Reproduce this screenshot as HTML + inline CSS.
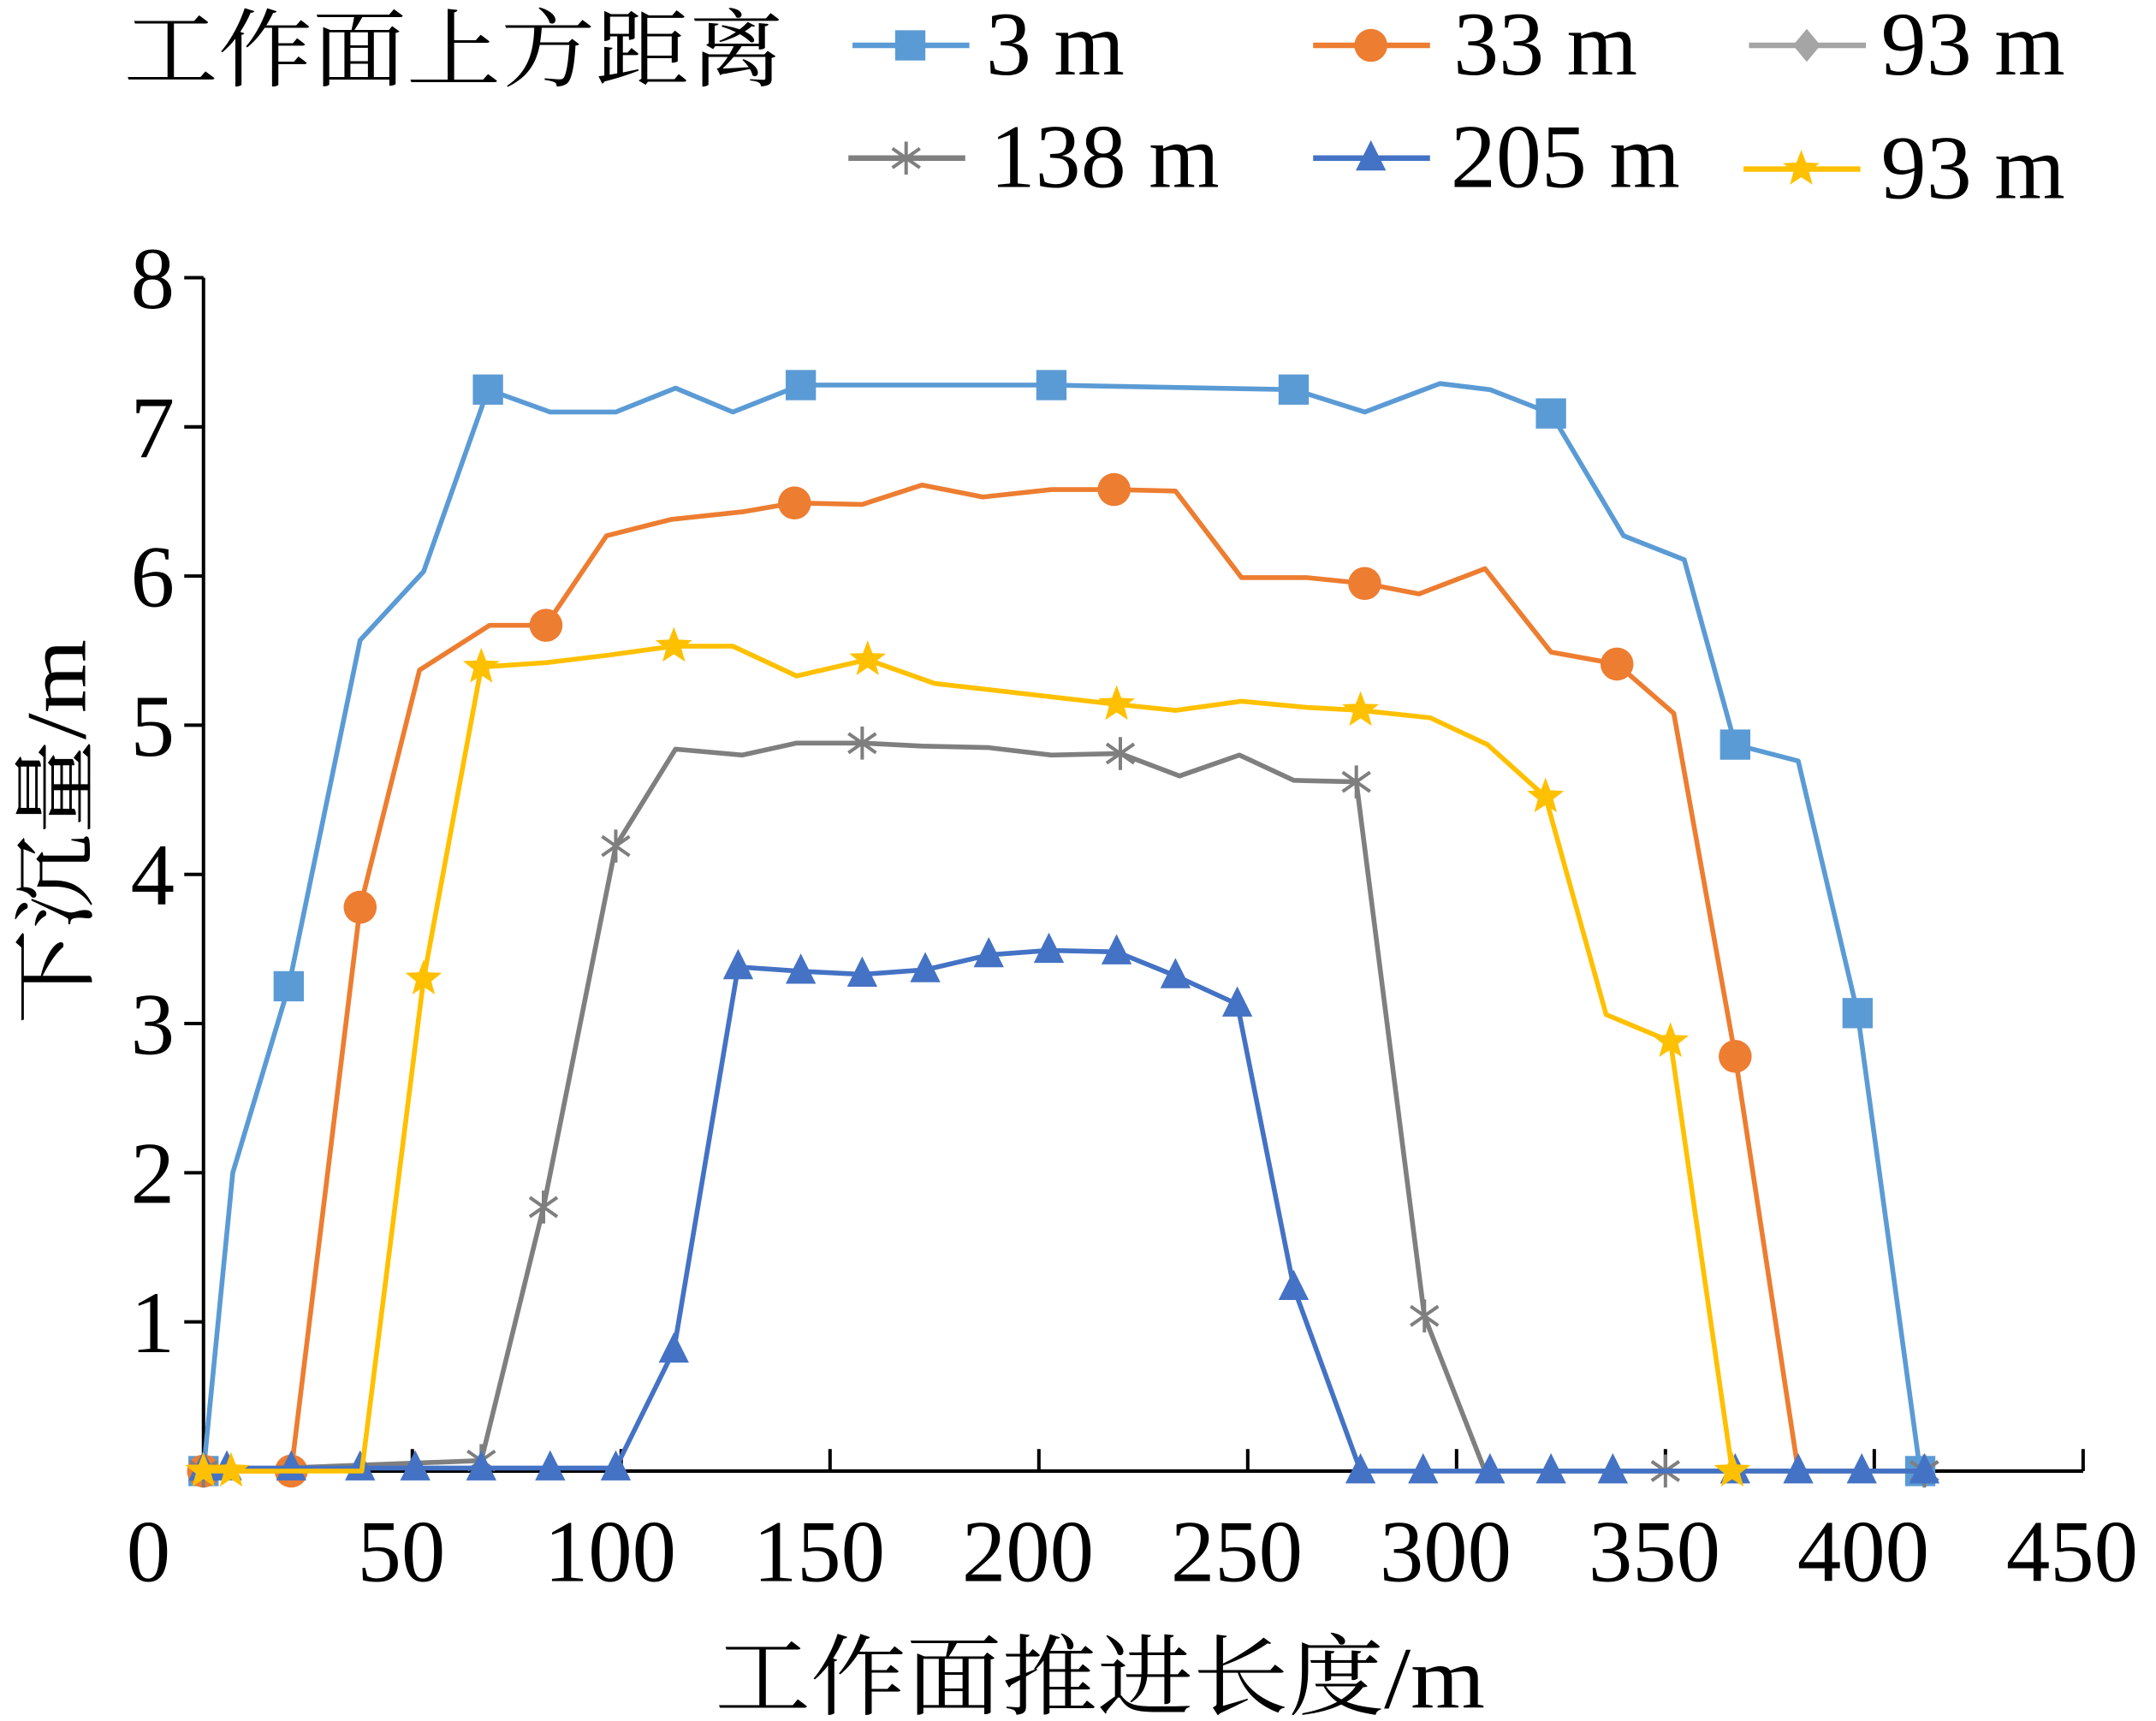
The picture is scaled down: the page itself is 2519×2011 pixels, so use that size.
<!DOCTYPE html>
<html><head><meta charset="utf-8"><style>
html,body{margin:0;padding:0;background:#fff;}
svg{display:block;}
text{font-family:"Liberation Serif","Noto Serif CJK SC",serif;fill:#000;}
</style></head><body>
<svg id="chart" width="2519" height="2011" viewBox="0 0 1568 1251.8" preserveAspectRatio="none" xmlns="http://www.w3.org/2000/svg">
<g id="legend"></g>
<g id="axes"></g>
<g id="series"></g>
</svg>
<script>
const xTicks=[0,50,100,150,200,250,300,350,400,450];
const yTicks=[1,2,3,4,5,6,7,8];
const s3x=[0,7,20.4,37.5,52.7,68.1,83,98.7,113,126.7,143,203,261,278,296,308,322.6,340,354.5,366.7,381.8,396,411];
const s3y=[0,2.0,3.25,5.57,6.03,7.25,7.1,7.1,7.26,7.1,7.28,7.28,7.25,7.1,7.29,7.25,7.09,6.27,6.11,4.87,4.76,3.07,0];
const s3m=[1,0,1,0,0,1,0,0,0,0,1,1,1,0,0,0,1,0,0,1,0,1,1];
const s33x=[0,21,37.5,51.7,68.5,82,96.5,112,129,141.5,157.7,172,186.6,203,218,232.7,248.5,264,278,291,306.8,322.6,338.4,352,366.7,381.8];
const s33y=[0,0,3.78,5.37,5.67,5.67,6.27,6.38,6.43,6.49,6.48,6.61,6.53,6.58,6.58,6.57,5.99,5.99,5.95,5.88,6.05,5.49,5.41,5.08,2.78,0];
const s33m=[1,1,1,0,0,1,0,0,0,1,0,0,0,0,1,0,0,0,1,0,0,0,1,0,1,0];
const s93x=[0,6.6,37.9,52.7,66.5,82.3,97,112.6,126.7,142,159,175,218.6,232.7,248.5,264,277,293.7,307.4,321.3,335.8,351.2,366];
const s93y=[0,0,0,3.3,5.39,5.42,5.47,5.53,5.53,5.33,5.44,5.28,5.14,5.1,5.16,5.12,5.1,5.05,4.87,4.52,3.06,2.88,0];
const s93m=[1,1,0,1,1,0,0,1,0,0,1,0,1,0,0,0,1,0,0,1,0,1,1];
const s138x=[0,66.5,81.4,98.7,113,129,142,157.7,172,188,203,219.5,233.7,248,261,276,292.3,306.8,350,412];
const s138y=[0,0.07,1.77,4.19,4.84,4.8,4.88,4.88,4.86,4.85,4.8,4.81,4.66,4.8,4.63,4.62,1.04,0,0,0];
const s138m=[1,1,1,1,0,0,0,1,0,0,0,1,0,0,0,1,1,0,1,1];
const s205x=[0,5.6,21,37.5,50.7,66.5,83,98.7,112.6,128,143,157.7,172.8,188,202.4,218.6,232.7,247.5,261,277,292,308,322.6,337.4,366.7,381.8,397,412];
const s205y=[0.02,0.02,0.02,0.02,0.02,0.02,0.02,0.02,0.81,3.38,3.35,3.33,3.36,3.46,3.49,3.48,3.32,3.13,1.23,0,0,0,0,0,0,0,0,0];
const legendLabels=["3 m","33 m","93 m","138 m","205 m","93 m"];
const NS="http://www.w3.org/2000/svg";
const X0=148,XK=(1515-148)/450,Y0=1070,YK=108.5;
const sx=v=>X0+v*XK, sy=v=>Y0-v*YK;
function mk(tag,attrs,parent){const e=document.createElementNS(NS,tag);for(const k in attrs)e.setAttribute(k,attrs[k]);parent.appendChild(e);return e;}
const axes=document.getElementById('axes');
let e;
e=mk('line',{x1:X0,y1:sy(8),x2:X0,y2:Y0,stroke:'#000','stroke-width':2.5},axes);


e=mk('line',{x1:X0,y1:Y0,x2:sx(450),y2:Y0,stroke:'#000','stroke-width':2.5},axes);


yTicks.forEach(v=>{
 e=mk('line',{x1:X0-14,y1:sy(v),x2:X0,y2:sy(v),stroke:'#000','stroke-width':2.5},axes);
 
 
 e=mk('text',{x:127,y:sy(v)+22,'text-anchor':'end','font-size':64},axes);e.textContent=v;
 
 
});
xTicks.forEach(v=>{
 if(v>0){e=mk('line',{x1:sx(v),y1:Y0-16,x2:sx(v),y2:Y0,stroke:'#000','stroke-width':2.5},axes);
 
 }
 const lx=v===0?108:sx(v)-8;
 e=mk('text',{x:lx,y:1150,'text-anchor':'middle','font-size':64},axes);e.textContent=v;
 
 
});
e=mk('text',{x:520,y:1242,'font-size':64,textLength:560,lengthAdjust:'spacingAndGlyphs'},axes);e.textContent='工作面推进长度/m';


e=mk('text',{x:0,y:0,'font-size':62,textLength:280,lengthAdjust:'spacingAndGlyphs',transform:'translate(62,745) rotate(-90)'},axes);e.textContent='下沉量/m';



function star(cx,cy,r){let p=[];for(let i=0;i<10;i++){const a=-Math.PI/2+i*Math.PI/5,rr=i%2?r*0.42:r;p.push((cx+rr*Math.cos(a)).toFixed(1)+','+(cy+rr*Math.sin(a)).toFixed(1));}return p.join(' ');}
function marker(type,color,cx,cy,g){
 if(type==='square')return mk('rect',{x:cx-11,y:cy-11,width:22,height:22,fill:color},g);
 if(type==='circle')return mk('circle',{cx:cx,cy:cy,r:12,fill:color},g);
 if(type==='diamond')return mk('polygon',{points:`${cx},${cy-12} ${cx+10},${cy} ${cx},${cy+12} ${cx-10},${cy}`,fill:color},g);
 if(type==='triangle')return mk('polygon',{points:`${cx},${cy-13} ${cx+11},${cy+9} ${cx-11},${cy+9}`,fill:color},g);
 if(type==='star')return mk('polygon',{points:star(cx,cy,14),fill:color},g);
 if(type==='asterisk'){const gg=mk('g',{stroke:color,'stroke-width':2.5},g);
  mk('line',{x1:cx,y1:cy-12,x2:cx,y2:cy+12},gg);mk('line',{x1:cx-10,y1:cy-7,x2:cx+10,y2:cy+7},gg);mk('line',{x1:cx-10,y1:cy+7,x2:cx+10,y2:cy-7},gg);return gg;}
}
const defs=[
 {n:'series-3m',xs:s3x,ys:s3y,m:s3m,c:'#5B9BD5',t:'square'},
 {n:'series-33m',xs:s33x,ys:s33y,m:s33m,c:'#ED7D31',t:'circle'},
 {n:'series-138m',xs:s138x,ys:s138y,m:s138m,c:'#7F7F7F',t:'asterisk'},
 {n:'series-205m',xs:s205x,ys:s205y,m:null,c:'#4472C4',t:'triangle'},
 {n:'series-93m-yellow',xs:s93x,ys:s93y,m:s93m,c:'#FFC000',t:'star'}
];
const sg=document.getElementById('series');
defs.forEach(d=>{
 const g=mk('g',{},sg);
 
 
 const pts=d.xs.map((x,i)=>sx(x).toFixed(1)+','+sy(d.ys[i]).toFixed(1)).join(' ');
 const pl=mk('polyline',{points:pts,fill:'none',stroke:d.c,'stroke-width':3.5,'stroke-linejoin':'round'},g);
 
 
 d.xs.forEach((x,i)=>{if(d.m&&!d.m[i])return;
  const mm=marker(d.t,d.c,sx(x),sy(d.ys[i]),g);
  
  });
});
const lg=document.getElementById('legend');
e=mk('text',{x:90,y:58,'font-size':62,textLength:480,lengthAdjust:'spacingAndGlyphs'},lg);e.textContent='工作面上方距离';


const legPos=[[620,18,'#5B9BD5','square',717],[955,18,'#ED7D31','circle',1057],[1272,18,'#A5A5A5','diamond',1368],[617,100,'#7F7F7F','asterisk',720],[955,100,'#4472C4','triangle',1055],[1268,108,'#FFC000','star',1368]];
legPos.forEach((p,i)=>{
 const g=mk('g',{},lg);
 
 
 mk('line',{x1:p[0],y1:p[1]+15,x2:p[0]+85,y2:p[1]+15,stroke:p[2],'stroke-width':4},g);
 marker(p[3],p[2],p[0]+42,p[1]+15,g);
 const t=mk('text',{x:p[4],y:p[1]+36,'font-size':66},g);t.textContent=legendLabels[i];
});
</script>
</body></html>
